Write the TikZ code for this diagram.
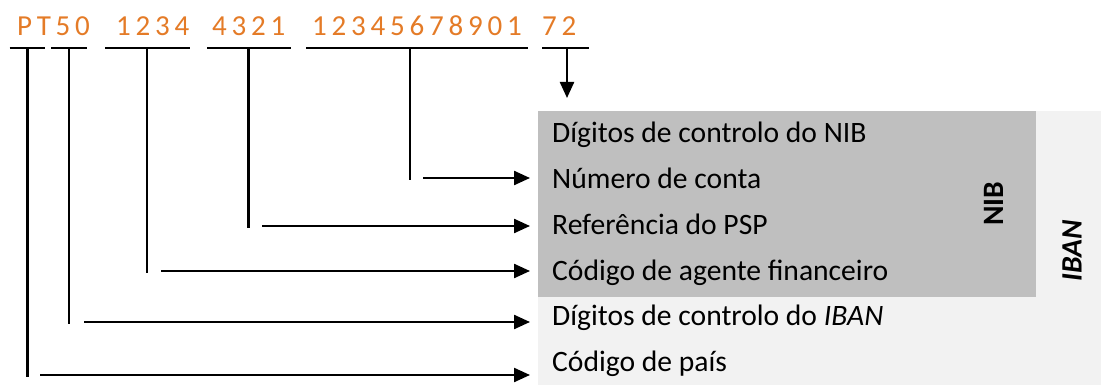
\documentclass[tikz,border=0pt]{standalone}
\usepackage{fontspec}
\setmainfont{Carlito}
\newfontfamily\spacedfont[LetterSpace=16.5]{Carlito}
\usetikzlibrary{arrows.meta}
\definecolor{ibanorange}{HTML}{E47B27}
\definecolor{nibgray}{HTML}{BFBFBF}
\definecolor{ibangray}{HTML}{F2F2F2}
\tikzset{
  codetext/.style={font=\spacedfont\fontsize{29}{34}\selectfont, text=ibanorange, anchor=base west, inner sep=0pt},
  fieldtext/.style={font=\fontsize{29.6}{34}\selectfont, anchor=base west, inner sep=0pt},
  ruleline/.style={line width=2.3pt},
  link/.style={line width=2.3pt, -{Triangle[length=16pt,width=14pt]}, shorten >=22pt},
  droplink/.style={line width=2.3pt, -{Triangle[length=16pt,width=14pt]}},
  sidetext/.style={font=\fontsize{29.6}{34}\selectfont\bfseries, rotate=90, inner sep=0pt},
}
\begin{document}
\begin{tikzpicture}[x=1pt,y=-1pt]
\useasboundingbox (0,0) rectangle (1101,385);
% background panels
\fill[ibangray] (538,111) rectangle (1101,385);
\fill[nibgray] (538,111) rectangle (1036,297);
% code groups
\node[codetext] (g1) at (17,36) {PT50};
\node[codetext] (g2) at (116,36) {1234};
\node[codetext] (g3) at (212,36) {4321};
\node[codetext] (g4) at (312,36) {12345678901};
\node[codetext] (g5) at (542,36) {72};
% underlines
\draw[ruleline] (9.6,48) -- (45,48);
\draw[ruleline] (51,48) -- (87,48);
\draw[ruleline] (105,48) -- (190,48);
\draw[ruleline] (207,48) -- (291,48);
\draw[ruleline] (306,48) -- (528,48);
\draw[ruleline] (542,48) -- (589,48);
% field labels
\node[fieldtext] (f1) at (552,142.3) {Dígitos de controlo do NIB};
\node[fieldtext] (f2) at (552,188.2) {Número de conta};
\node[fieldtext] (f3) at (552,234.1) {Referência do PSP};
\node[fieldtext] (f4) at (552,280) {Código de agente financeiro};
\node[fieldtext] (f5) at (552,325.9) {Dígitos de controlo do \textit{IBAN}};
\node[fieldtext] (f6) at (552,371.7) {Código de país};
% side labels
\node[sidetext] (nib) at (994,204) {NIB};
\node[sidetext] (iban) at (1072,251) {\itshape IBAN};
% connector coordinates
\coordinate (v1) at (27.5,48);  \coordinate (k1) at (27.5,377); \coordinate (s1) at (40,375);
\coordinate (v2) at (69,48);    \coordinate (k2) at (69,324);   \coordinate (s2) at (84,322);
\coordinate (v3) at (147,48);   \coordinate (k3) at (147,273);  \coordinate (s3) at (161,271);
\coordinate (v4) at (248.5,48); \coordinate (k4) at (248.5,228); \coordinate (s4) at (262,226);
\coordinate (v5) at (410,48);   \coordinate (k5) at (410,180);  \coordinate (s5) at (423,178);
\coordinate (v6) at (567,48);   \coordinate (d6) at (567,98);
% connectors
\draw[ruleline] (v1) -- (k1);
\draw[link] (s1) -- (s1 -| f6.west);
\draw[ruleline] (v2) -- (k2);
\draw[link] (s2) -- (s2 -| f5.west);
\draw[ruleline] (v3) -- (k3);
\draw[link] (s3) -- (s3 -| f4.west);
\draw[ruleline] (v4) -- (k4);
\draw[link] (s4) -- (s4 -| f3.west);
\draw[ruleline] (v5) -- (k5);
\draw[link] (s5) -- (s5 -| f2.west);
\draw[droplink] (v6) -- (d6);
\end{tikzpicture}
\end{document}
